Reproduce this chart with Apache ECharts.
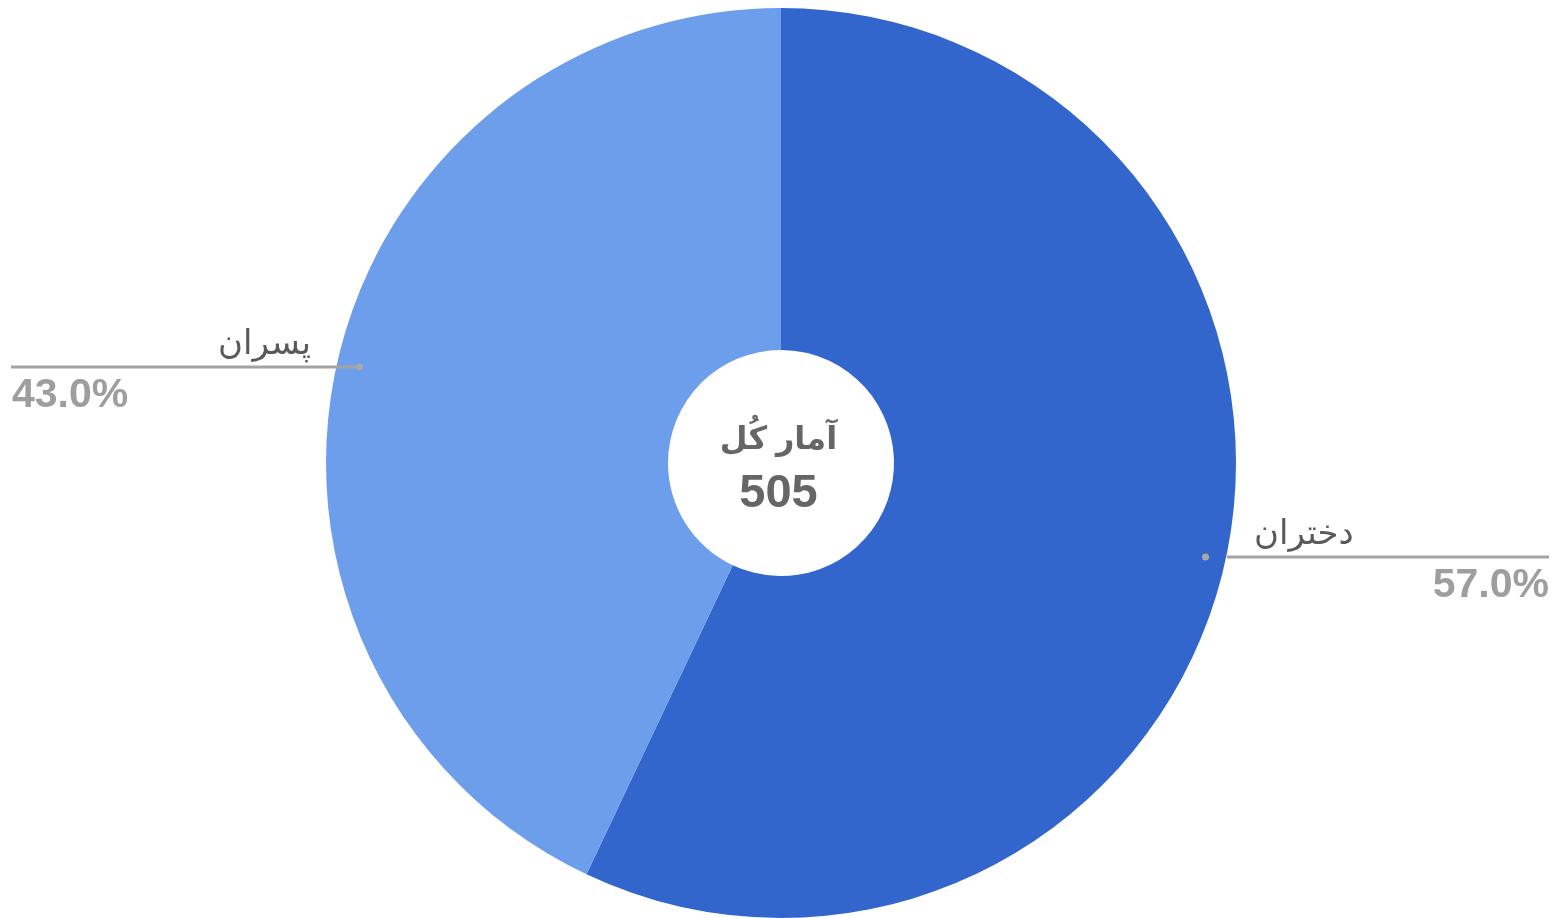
<!DOCTYPE html>
<html>
<head>
<meta charset="utf-8">
<script src="https://cdn.jsdelivr.net/npm/echarts@6/dist/echarts.min.js"></script>
<style>
html,body{margin:0;padding:0;background:#fff;}
#chart{width:1557px;height:918px;}
</style>
</head>
<body>
<div id="chart"></div>
<script>
const categories = ['دختران', 'پسران'];
const counts = [288, 217];
const colors = ['#3366CC', '#6D9EEB'];
const centerTitle = 'آمار کُل';

const total = counts.reduce((a, b) => a + b, 0);
const FONT = '"Liberation Sans", Arial, "DejaVu Sans", sans-serif';

// which side of the pie each slice's label falls on (mid angle, clockwise from top)
let acc = 0;
const onRight = counts.map(v => { const mid = (acc + v / 2) / total; acc += v; return mid < 0.5; });

const data = categories.map((name, i) => {
  const right = onRight[i];
  return {
    name: name,
    value: counts[i],
    itemStyle: { color: colors[i] },
    label: {
      width: right ? 347 : 352,
      edgeDistance: right ? 8 : 11,
      rich: {
        n: { fontSize: 34, color: '#5a5a5a', fontFamily: FONT, lineHeight: 42,
             align: right ? 'left' : 'right', padding: right ? [6, 0, 0, 52] : [6, 52, 0, 0] },
        p: { fontSize: 41, color: '#9e9e9e', fontWeight: 'bold', fontFamily: FONT, lineHeight: 44,
             align: right ? 'right' : 'left', padding: right ? [5, 0, 0, 0] : [5, 0, 0, 1] },
        d: { width: 7, height: 7, borderRadius: 3.5, backgroundColor: '#a9a9a9', lineHeight: 8, verticalAlign: 'middle' },
        g: { width: 18, height: 3, lineHeight: 8, verticalAlign: 'middle' },
        b: { width: right ? 322 : 345, height: 3, backgroundColor: '#a3a3a3', lineHeight: 8, verticalAlign: 'middle' }
      }
    }
  };
});

const chart = echarts.init(document.getElementById('chart'), null, { renderer: 'canvas' });
chart.setOption({
  animation: false,
  backgroundColor: '#ffffff',
  title: {
    text: centerTitle,
    subtext: String(total),
    left: 'center',
    top: 419,
    itemGap: 15,
    textStyle: { fontSize: 32, fontWeight: 'bold', color: '#666666', fontFamily: FONT },
    subtextStyle: { fontSize: 47, fontWeight: 'bold', color: '#666666', fontFamily: FONT }
  },
  series: [{
    type: 'pie',
    center: [781, 463],
    radius: [113, 455],
    startAngle: 90,
    clockwise: true,
    avoidLabelOverlap: false,
    emphasis: { disabled: true },
    label: {
      show: true,
      position: 'outside',
      alignTo: 'edge',
      edgeDistance: 8,
      distanceToLabelLine: -150,
      formatter: p => {
        const pct = (p.value / total * 100).toFixed(1) + '%';
        const mid = onRight[p.dataIndex] ? '{d|}{g|}{b|}' : '{b|}{d|}';
        return '{n|' + p.name + '}\n' + mid + '\n{p|' + pct + '}';
      }
    },
    labelLine: {
      show: false,
      length: -21,
      length2: 0
    },
    data: data
  }]
});
</script>
</body>
</html>
